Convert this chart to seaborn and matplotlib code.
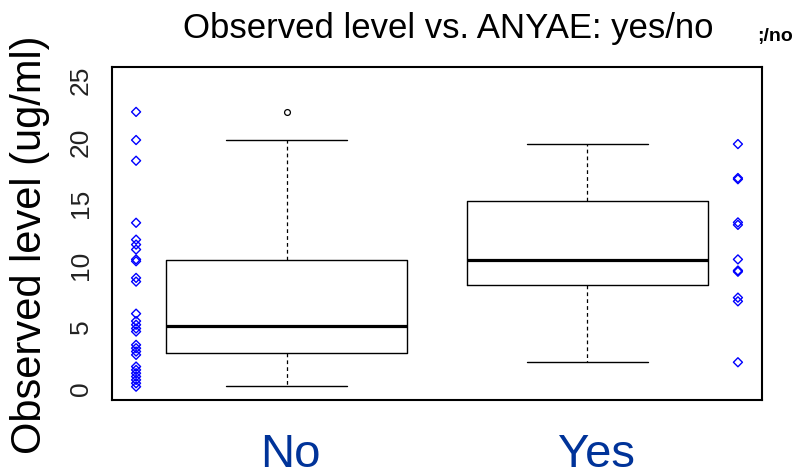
import matplotlib
matplotlib.use("Agg")
import matplotlib.pyplot as plt
import matplotlib.transforms as mtransforms
import seaborn as sns

sns.set_style("white")
plt.rcParams['font.family'] = ['Liberation Sans', 'DejaVu Sans']
plt.rcParams['text.color'] = 'black'

# ---- data ----
groups = ["No", "Yes"]
no_values = [22.36, 20.08, 18.4, 13.37, 12.0, 11.6, 11.2, 10.4, 10.25, 8.9, 8.6,
             6.0, 5.4, 5.1, 4.8, 4.55, 3.47, 3.2, 2.93, 2.66, 1.71, 1.44, 1.17,
             0.9, 0.63, 0.36, 0.08]
yes_values = [19.75, 17.0, 16.9, 13.4, 13.2, 10.4, 9.5, 9.4, 7.3, 7.0, 2.06]

# box summary (R hinges) as drawn
box_low = [0.16, 2.08]
box_q1 = [2.85, 8.33]
box_med = [4.96, 10.36]
box_q3 = [10.36, 15.14]
box_high = [20.1, 19.75]
box_outliers = [[22.36], []]

xtick_positions = [0.5, 0.9, 1.0, 1.3, 1.7, 2.0, 2.1, 2.5]
ytick_values = [0, 5, 10, 15, 20, 25]

title_text = "Observed level vs. ANYAE: yes/no"
title_extra = ";/no"
ylabel_text = "Observed level (ug/ml)"

# ---- figure ----
W, H = 796, 477
fig = plt.figure(figsize=(W / 100, H / 100), dpi=100)
ax = fig.add_axes([112 / W, 1 - 401 / H, 650 / W, 333 / H])

stats = []
for i in range(len(groups)):
    stats.append(dict(whislo=box_low[i], q1=box_q1[i], med=box_med[i],
                      q3=box_q3[i], whishi=box_high[i], fliers=box_outliers[i],
                      label=groups[i]))

ax.bxp(stats, positions=[1, 2], widths=0.8, capwidths=0.4, showfliers=True,
       manage_ticks=False,
       boxprops=dict(color="black", lw=1.0),
       medianprops=dict(color="black", lw=2.3, solid_capstyle="butt"),
       whiskerprops=dict(color="black", lw=0.9, linestyle=(0, (3, 2.5))),
       capprops=dict(color="black", lw=1.0),
       flierprops=dict(marker="o", markerfacecolor="none", markeredgecolor="black",
                       markersize=4.2, markeredgewidth=0.9))

sns.scatterplot(x=[0.5] * len(no_values), y=no_values, marker="D", s=21,
                facecolor="none", edgecolor="blue", linewidth=1.0, ax=ax)
sns.scatterplot(x=[2.5] * len(yes_values), y=yes_values, marker="D", s=21,
                facecolor="none", edgecolor="blue", linewidth=1.0, ax=ax)

ax.set_xlim(0.42, 2.58)
ax.set_ylim(-1, 26)
ax.set_xticks(xtick_positions)
ax.set_xticklabels([])
ax.set_yticks(ytick_values)
ax.set_yticklabels([str(v) for v in ytick_values], rotation=90, va="center",
                   fontsize=19, color="#222222")
ax.tick_params(axis="y", length=7, width=1.2, pad=7, colors="#222222")
ax.tick_params(axis="x", length=5, width=1.2, colors="#333333")
ax.set_xlabel("")
ax.set_ylabel("")
for sp in ax.spines.values():
    sp.set_visible(True)
    sp.set_color("black")
    sp.set_linewidth(1.5)

# category labels below axis
trans = mtransforms.blended_transform_factory(ax.transData, fig.transFigure)
for pos, lab in zip([1.013, 2.03], groups):
    ax.text(pos, 1 - 467 / H, lab, transform=trans, ha="center", va="baseline",
            fontsize=34, color="#003399")

fig.text(30 / W, 1 - 245 / H, ylabel_text, rotation=90, ha="center", va="center",
         fontsize=30, color="black")
fig.text(183 / W, 1 - 38 / H, title_text, ha="left", va="baseline", fontsize=25,
         color="black")
fig.text(757 / W, 1 - 41.5 / H, title_extra, ha="left", va="baseline",
         fontsize=14, fontweight="bold", color="black")

fig.savefig("out.png", dpi=100)
